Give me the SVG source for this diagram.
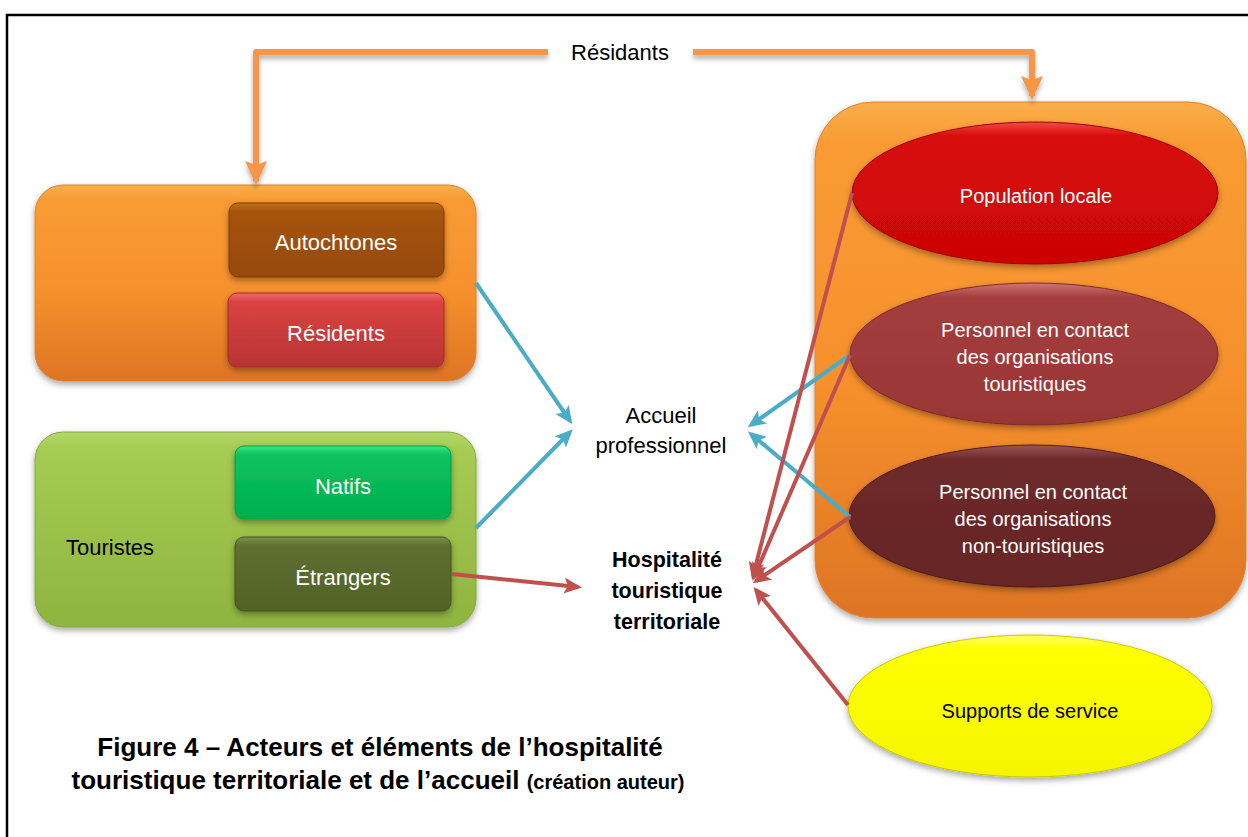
<svg xmlns="http://www.w3.org/2000/svg" width="1248" height="837" viewBox="0 0 1248 837">
<style>
.t{font-family:"Liberation Sans",Arial,sans-serif;}
.w{fill:#ffffff;font-size:22px;text-anchor:middle;}
.we{fill:#ffffff;font-size:20px;text-anchor:middle;}
.k{fill:#000000;font-size:22px;}
.b{fill:#000000;font-size:21.5px;font-weight:bold;text-anchor:middle;}
.cap{fill:#000000;font-size:26px;font-weight:bold;text-anchor:middle;}
.blue{stroke:#4BACC6;stroke-width:4;fill:none;marker-end:url(#ab);}
.red{stroke:#C0504D;stroke-width:4;fill:none;marker-end:url(#ar);}
.org{stroke:#F79646;stroke-width:6;fill:none;stroke-linejoin:round;marker-end:url(#ao);}
.sh{filter:url(#ds);}
</style>
<defs>
<filter id="ds" x="-10%" y="-10%" width="120%" height="130%">
<feDropShadow dx="0" dy="3" stdDeviation="3" flood-color="#000" flood-opacity="0.35"/>
</filter>
<filter id="ls" x="-5%" y="-50%" width="110%" height="300%">
<feDropShadow dx="0" dy="4" stdDeviation="2.5" flood-color="#000" flood-opacity="0.3"/>
</filter>
<marker id="ab" viewBox="0 0 18 16" refX="14" refY="8" markerWidth="18" markerHeight="16" markerUnits="userSpaceOnUse" orient="auto">
<path d="M0,0 L18,8 L0,16 L4,8 z" fill="#4BACC6"/>
</marker>
<marker id="ar" viewBox="0 0 18 16" refX="14" refY="8" markerWidth="18" markerHeight="16" markerUnits="userSpaceOnUse" orient="auto">
<path d="M0,0 L18,8 L0,16 L4,8 z" fill="#C0504D"/>
</marker>
<marker id="ao" viewBox="0 0 24 22" refX="20" refY="11" markerWidth="24" markerHeight="22" markerUnits="userSpaceOnUse" orient="auto">
<path d="M0,0 L24,11 L0,22 L4,11 z" fill="#F79646"/>
</marker>
<linearGradient id="gOr" x1="0" y1="0" x2="0" y2="1">
<stop offset="0" stop-color="#FBAE4A"/>
<stop offset="0.08" stop-color="#F99B33"/>
<stop offset="0.55" stop-color="#F6902D"/>
<stop offset="1" stop-color="#DE7424"/>
</linearGradient>
<linearGradient id="gGr" x1="0" y1="0" x2="0" y2="1">
<stop offset="0" stop-color="#B5D86A"/>
<stop offset="0.08" stop-color="#A6CC54"/>
<stop offset="1" stop-color="#8FB43F"/>
</linearGradient>
<linearGradient id="gAu" x1="0" y1="0" x2="0" y2="1">
<stop offset="0" stop-color="#C0701E"/>
<stop offset="0.12" stop-color="#A6530B"/>
<stop offset="1" stop-color="#964A07"/>
</linearGradient>
<linearGradient id="gRe" x1="0" y1="0" x2="0" y2="1">
<stop offset="0" stop-color="#F06A6A"/>
<stop offset="0.12" stop-color="#DB4242"/>
<stop offset="1" stop-color="#B83333"/>
</linearGradient>
<linearGradient id="gNa" x1="0" y1="0" x2="0" y2="1">
<stop offset="0" stop-color="#3BE58A"/>
<stop offset="0.12" stop-color="#0BC35E"/>
<stop offset="1" stop-color="#00AE4E"/>
</linearGradient>
<linearGradient id="gEt" x1="0" y1="0" x2="0" y2="1">
<stop offset="0" stop-color="#7E8F4C"/>
<stop offset="0.12" stop-color="#5E6F30"/>
<stop offset="1" stop-color="#526227"/>
</linearGradient>
<linearGradient id="gPo" x1="0" y1="0" x2="0" y2="1">
<stop offset="0" stop-color="#F24A4A"/>
<stop offset="0.1" stop-color="#D80A0A"/>
<stop offset="1" stop-color="#CC0505"/>
</linearGradient>
<linearGradient id="gPt" x1="0" y1="0" x2="0" y2="1">
<stop offset="0" stop-color="#D07575"/>
<stop offset="0.1" stop-color="#A43D3D"/>
<stop offset="1" stop-color="#9A3636"/>
</linearGradient>
<linearGradient id="gPn" x1="0" y1="0" x2="0" y2="1">
<stop offset="0" stop-color="#9A5555"/>
<stop offset="0.1" stop-color="#6E2A2A"/>
<stop offset="1" stop-color="#662525"/>
</linearGradient>
<linearGradient id="gSu" x1="0" y1="0" x2="0" y2="1">
<stop offset="0" stop-color="#FFFF66"/>
<stop offset="0.1" stop-color="#FFFF00"/>
<stop offset="1" stop-color="#F5F500"/>
</linearGradient>
</defs>

<rect x="0" y="0" width="1248" height="837" fill="#ffffff"/>
<path d="M7,837 L7,15 L1248,15" fill="none" stroke="#000" stroke-width="2.5"/>

<g id="left-orange">
<rect class="sh" x="35" y="185" width="441" height="196" rx="28" fill="url(#gOr)" stroke="#E0822C" stroke-width="1"/>
</g>
<g id="autochtones">
<rect class="sh" x="229" y="203" width="215" height="74" rx="9" fill="url(#gAu)" stroke="#7A3B05" stroke-width="1"/>
<text class="t w" x="336" y="250">Autochtones</text>
</g>
<g id="residents">
<rect class="sh" x="228" y="293" width="216" height="74" rx="9" fill="url(#gRe)" stroke="#A02B2B" stroke-width="1"/>
<text class="t w" x="336" y="341">Résidents</text>
</g>

<g id="touristes">
<rect class="sh" x="35" y="432" width="441" height="195" rx="28" fill="url(#gGr)" stroke="#86A83A" stroke-width="1"/>
<text class="t k" x="66" y="555">Touristes</text>
</g>
<g id="natifs">
<rect class="sh" x="235" y="446" width="216" height="73" rx="9" fill="url(#gNa)" stroke="#00A048" stroke-width="1"/>
<text class="t w" x="343" y="494">Natifs</text>
</g>
<g id="etrangers">
<rect class="sh" x="235" y="537" width="216" height="74" rx="9" fill="url(#gEt)" stroke="#45531F" stroke-width="1"/>
<text class="t w" x="343" y="585">Étrangers</text>
</g>

<g id="right-orange">
<rect class="sh" x="815" y="102" width="431" height="516" rx="58" fill="url(#gOr)" stroke="#E0822C" stroke-width="1"/>
</g>
<g id="population-locale">
<ellipse class="sh" cx="1035" cy="193" rx="183" ry="71" fill="url(#gPo)" stroke="#A00000" stroke-width="1"/>
<text class="t we" x="1036" y="203">Population locale</text>
</g>
<g id="personnel-touristiques">
<ellipse class="sh" cx="1034" cy="354" rx="184" ry="71" fill="url(#gPt)" stroke="#7E2A2A" stroke-width="1"/>
<text class="t we" x="1035" y="337">Personnel en contact</text>
<text class="t we" x="1035" y="364">des organisations</text>
<text class="t we" x="1035" y="391">touristiques</text>
</g>
<g id="personnel-non-touristiques">
<ellipse class="sh" cx="1032" cy="516" rx="183" ry="71" fill="url(#gPn)" stroke="#4E1A1A" stroke-width="1"/>
<text class="t we" x="1033" y="499">Personnel en contact</text>
<text class="t we" x="1033" y="526">des organisations</text>
<text class="t we" x="1033" y="553">non-touristiques</text>
</g>
<g id="supports-service">
<ellipse class="sh" cx="1030" cy="706" rx="182" ry="71" fill="url(#gSu)" stroke="#C8C800" stroke-width="1"/>
<text class="t" x="1030" y="718" style="fill:#000;font-size:20px;text-anchor:middle">Supports de service</text>
</g>

<g id="accueil-professionnel">
<text class="t k" x="661" y="423" text-anchor="middle">Accueil</text>
<text class="t k" x="661" y="453" text-anchor="middle">professionnel</text>
</g>
<g id="hospitalite">
<text class="t b" x="667" y="567">Hospitalité</text>
<text class="t b" x="667" y="598">touristique</text>
<text class="t b" x="667" y="629">territoriale</text>
</g>

<g id="connectors">
<g filter="url(#ls)">
<path class="org" d="M548,52 L256,52 L256,181"/>
<path class="org" d="M693,52 L1032,52 L1032,96"/>
</g>
<text class="t" x="620" y="60" style="fill:#000;font-size:22px;text-anchor:middle">Résidants</text>
<path class="blue" d="M476,283 L570,421"/>
<path class="blue" d="M476,528 L570,432"/>
<path class="blue" d="M850,355 L751,425"/>
<path class="blue" d="M850,517 L751,434"/>
<path class="red" d="M452,574 L578,587"/>
<path class="red" d="M852,193 L753,576"/>
<path class="red" d="M850,355 L754,577"/>
<path class="red" d="M850,517 L756,581"/>
<path class="red" d="M848,705 L756,590"/>
</g>

<g id="caption">
<text class="t cap" x="380" y="756">Figure 4 – Acteurs et éléments de l’hospitalité</text>
<text class="t cap" x="378" y="789">touristique territoriale et de l’accueil <tspan style="font-size:20px">(création auteur)</tspan></text>
</g>
</svg>
